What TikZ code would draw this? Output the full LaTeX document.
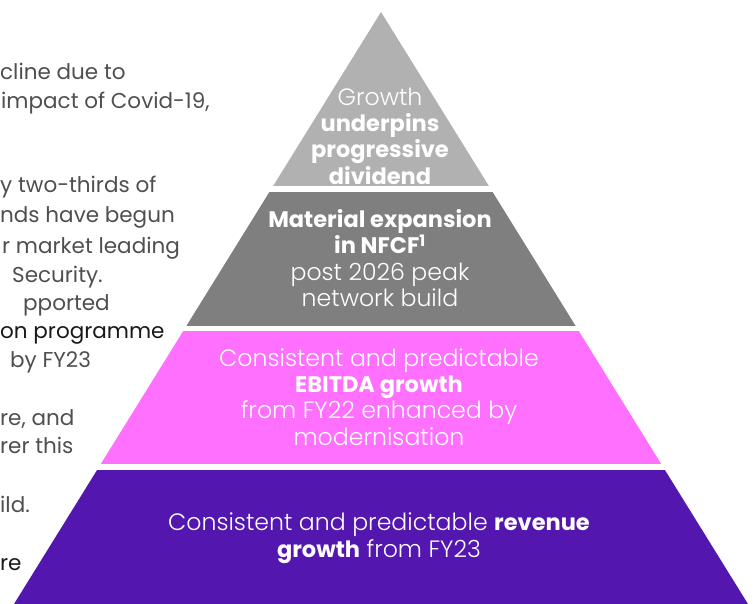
\documentclass[tikz,border=0pt]{standalone}
\usepackage{fontspec}
\setmainfont{Poppins}
\newfontfamily\thinface[Scale=1.05]{Poppins Light}
\begin{document}
\begin{tikzpicture}[x=1bp,y=-1bp,
  side/.style={anchor=base west,inner sep=0pt,text=sidegray,font=\fontsize{21.5bp}{28bp}\selectfont},
  sidedark/.style={side,text=black!90},
  tiertext/.style={align=center,inner sep=0pt,text=white,font=\fontsize{22.5bp}{26.3bp}\thinface},
]
\definecolor{sidegray}{HTML}{4F4F4F}
\definecolor{tierA}{HTML}{B1B1B1}
\definecolor{tierB}{HTML}{7F7F7F}
\definecolor{tierC}{HTML}{FF70FF}
\definecolor{tierD}{HTML}{5317B0}
\newcommand{\heavy}[1]{{\fontspec{Poppins}\bfseries #1}}
\useasboundingbox (0,0) rectangle (753,604);

% side text, cut at the left edge
\node[side] (s1) at (0,80) {cline due to};
\node[side] (s2) at (1,109) {impact of Covid-19,};
\node[side] (s3) at (0,193) {y two-thirds of};
\node[side] (s4) at (0,223) {nds have begun};
\node[side] (s5) at (2,253) {r market leading};
\node[side] (s6) at (12,282) {Security.};
\node[side] (s7) at (23,310) {pported};
\node[sidedark] (s8) at (0,338) {on programme};
\node[side] (s9) at (10,367) {by FY23};
\node[side] (s10) at (0,425) {re, and};
\node[side] (s11) at (0,453) {rer this};
\node[side] (s12) at (0,512) {ild.};
\node[sidedark] (s13) at (0,570) {re};

% pyramid: one triangle cut into four tiers by white gaps
\begin{scope}
  \clip (381,12) -- (748,604) -- (14,604) -- cycle;
  \fill[tierA] (0,0) rectangle (753,186);
  \fill[tierB] (0,192) rectangle (753,326);
  \fill[tierC] (0,331) rectangle (753,464);
  \fill[tierD] (0,470) rectangle (753,605);
\end{scope}

\node[tiertext] (t1) at (380,136) {Growth\\\heavy{underpins}\\\heavy{progressive}\\\heavy{dividend}};
\node[tiertext] (t2) at (380,258) {\heavy{Material expansion}\\\heavy{in NFCF\textsuperscript{1}}\\post 2026 peak\\network build};
\node[tiertext] (t3) at (379,397) {Consistent and predictable\\\heavy{EBITDA growth}\\from FY22 enhanced by\\modernisation};
\node[tiertext,font=\fontsize{22.5bp}{27bp}\thinface] (t4) at (379,538) {Consistent and predictable \heavy{revenue}\\\heavy{growth} from FY23};
\end{tikzpicture}
\end{document}
